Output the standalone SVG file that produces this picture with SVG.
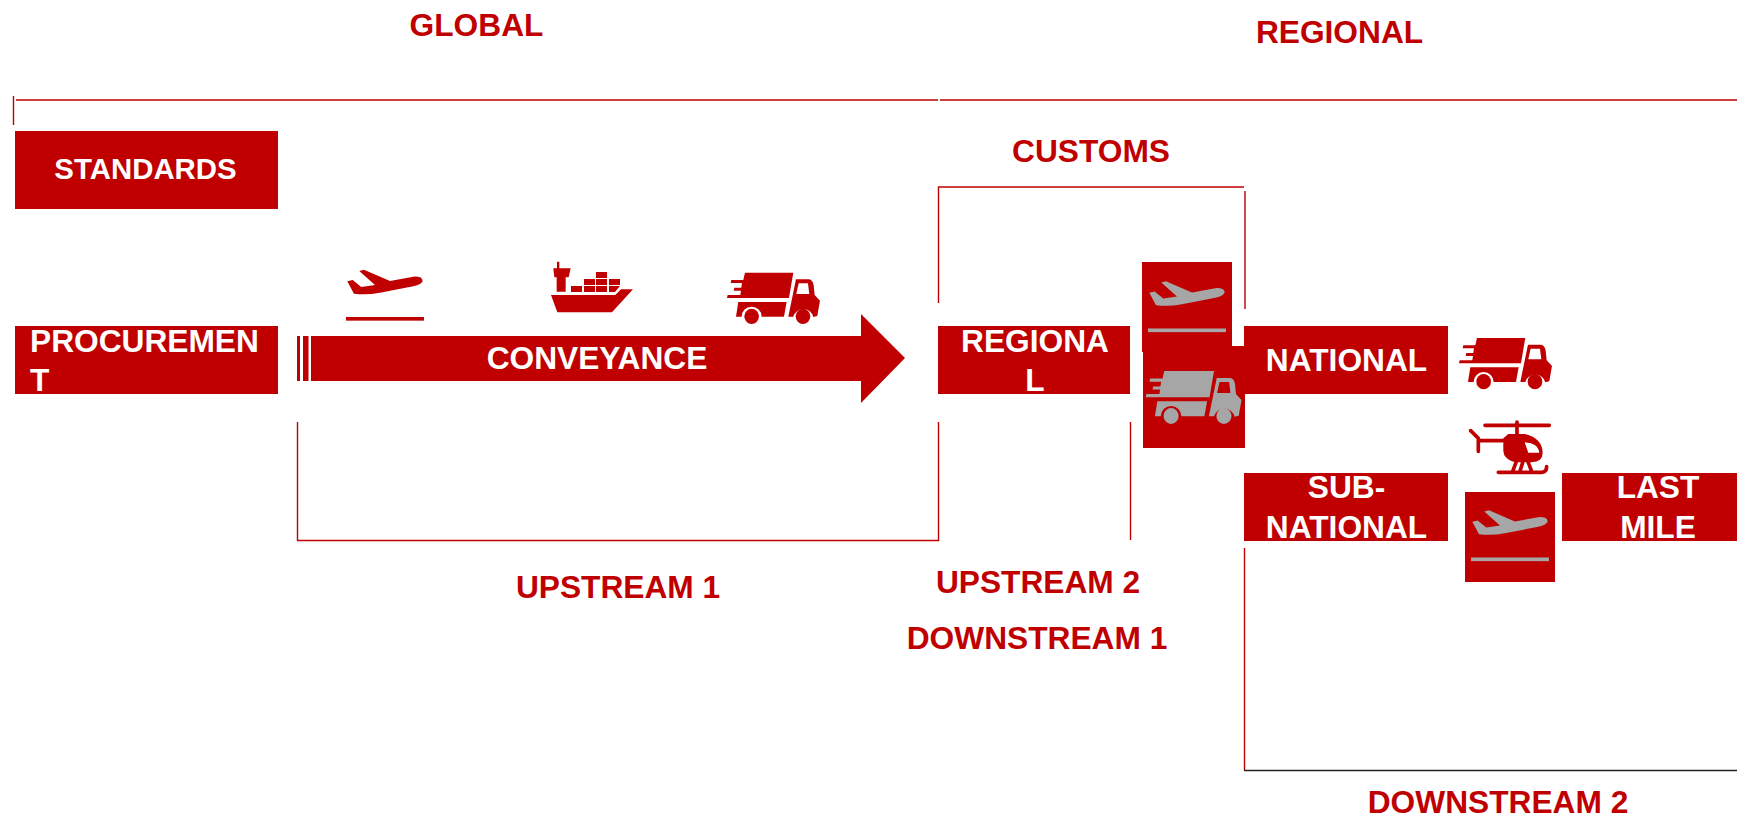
<svg xmlns="http://www.w3.org/2000/svg" width="1737" height="819" viewBox="0 0 1737 819">
<style>
text{font-family:"Liberation Sans",Arial,sans-serif;font-weight:700;font-size:31.7px;text-anchor:middle}
.w{fill:#fff}.r{fill:#c00000}.box{fill:#c00000}
.ln{stroke:#c00000;stroke-width:1.4;fill:none}
.red{color:#c00000}.grey{color:#a6a6a6}
</style>
<defs>
<g id="truck" fill="currentColor" fill-rule="evenodd">
<path d="M735 98H880L867 174H681L683 165H721L723 152H701L703 143H724L726 129H692L694 120H730Z"/>
<path d="M715 186H860L852 230H785A30 30 0 0 0 725 230H708Z"/>
<path d="M888 118H925Q938 118 941 135L944 165L960 182L952 228L940 231A31 31 0 0 0 880 230H865ZM896 130H924L928 162H889Z"/>
<ellipse cx="755" cy="229" rx="22" ry="23"/><ellipse cx="909" cy="229" rx="22" ry="23"/>
</g>
<g id="plane" fill="currentColor">
<path d="M1042 604L1058 600L1084 621L1125 615L1078 573L1092 569L1170 603L1240 590Q1268 589 1268 603Q1266 613 1240 619L1140 638Q1100 646 1062 641Z"/>
<rect x="1038" y="711" width="234" height="11"/>
</g>
</defs>
<g id="connectors">
<path class="ln" d="M13.500 96V125M16 100H938M940 100H1737"/>
<path class="ln" d="M938.500 303V187H1244M1245 191V309"/>
<path class="ln" d="M297.500 422V540.500H938.500V422M1130.500 422V540"/>
<path class="ln" d="M1244.500 548V770"/>
<path d="M1244 770.500H1737" stroke="#222" stroke-width="1.4" fill="none"/>
</g>
<g id="label-global"><text class="r" x="476.500" y="35.500">GLOBAL</text></g>
<g id="label-regional"><text class="r" x="1339.500" y="42.500">REGIONAL</text></g>
<g id="label-customs"><text class="r" x="1091" y="161.500">CUSTOMS</text></g>
<g id="label-upstream1"><text class="r" x="618" y="597.500">UPSTREAM 1</text></g>
<g id="label-upstream2"><text class="r" x="1038" y="593">UPSTREAM 2</text></g>
<g id="label-downstream1"><text class="r" x="1037" y="649">DOWNSTREAM 1</text></g>
<g id="label-downstream2"><text class="r" x="1498" y="813">DOWNSTREAM 2</text></g>
<g id="standards"><rect class="box" x="15" y="131" width="263" height="78"/><text class="w" style="font-size:29.4px" x="145.500" y="179">STANDARDS</text></g>
<g id="procurement"><rect class="box" x="15" y="326" width="263" height="68"/><text class="w" style="text-anchor:start" x="30" y="352">PROCUREMEN</text><text class="w" style="text-anchor:start" x="30" y="391">T</text></g>
<g id="conveyance">
<rect class="box" x="297" y="336" width="3" height="45"/><rect class="box" x="303" y="336" width="5.500" height="45"/>
<path class="box" d="M311 336H861V314L905 358L861 403V381H311Z"/>
<text class="w" x="597" y="369">CONVEYANCE</text>
</g>
<g id="icon-plane-1" class="red"><use href="#plane" transform="translate(0 80) scale(.3333)"/></g>
<g id="icon-ship" fill="#c00000" transform="translate(500 240) scale(.3333)">
<path d="M171 65H178V85H212L206 112H197V155H170V112H163L160 85H171Z"/>
<rect x="213" y="138" width="33" height="18"/><rect x="252" y="138" width="33" height="18"/><rect x="288" y="138" width="33" height="18"/><path d="M327 138H360L345 156H327Z"/>
<rect x="252" y="117" width="33" height="18"/><rect x="288" y="117" width="33" height="18"/><rect x="327" y="117" width="33" height="18"/>
<rect x="288" y="96" width="33" height="18"/>
<path d="M153 165H346L363 148H399L336 217H172Z"/>
</g>
<g id="icon-truck-1" class="red"><use href="#truck" transform="translate(500 240) scale(.3333)"/></g>
<g id="regional"><rect class="box" x="938" y="326" width="192" height="68"/><text class="w" x="1035" y="352">REGIONA</text><text class="w" x="1035" y="391">L</text></g>
<g id="national"><rect class="box" x="1244" y="326" width="204" height="68"/><text class="w" x="1346.500" y="371">NATIONAL</text></g>
<g id="truck-box" class="grey"><rect class="box" x="1143" y="346" width="102" height="102"/><use href="#truck" transform="translate(911.900 337.400) scale(.3433)"/></g>
<g id="plane-box-1" class="grey"><rect class="box" x="1142" y="262" width="90" height="90"/><use href="#plane" transform="translate(802 91.500) scale(.3333)"/></g>
<g id="icon-truck-2" class="red"><use href="#truck" transform="translate(1232 305.300) scale(.3333)"/></g>
<g id="icon-helicopter" transform="translate(1230 310) scale(.3333)">
<path d="M765 346H958M861 336V375M745 392H830M722 362L745 385V424M805 487H935Q950 486 950 470M858 458L848 484M895 458L905 484M878 458L870 484" fill="none" stroke="#c00000" stroke-width="11" stroke-linecap="round"/>
<path fill="#c00000" fill-rule="evenodd" d="M835 372H885Q938 385 938 430Q938 455 905 457H860Q820 450 820 420V385ZM884 397Q925 400 928 428H895Z"/>
</g>
<g id="sub-national"><rect class="box" x="1244" y="473" width="204" height="68"/><text class="w" x="1346.500" y="498">SUB-</text><text class="w" x="1346.500" y="538">NATIONAL</text></g>
<g id="plane-box-2" class="grey"><rect class="box" x="1465" y="492" width="90" height="90"/><use href="#plane" transform="translate(1125 320.500) scale(.3333)"/></g>
<g id="last-mile"><rect class="box" x="1562" y="473" width="175" height="68"/><text class="w" x="1658" y="498">LAST</text><text class="w" x="1658" y="538">MILE</text></g>
</svg>
